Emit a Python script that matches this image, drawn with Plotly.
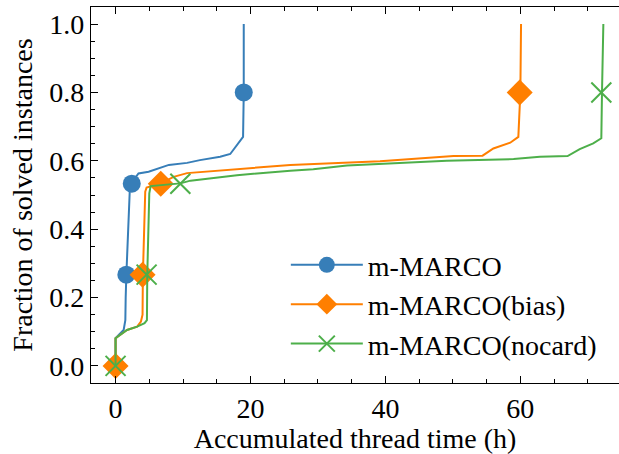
import plotly.graph_objects as go

# ---- data ----
series_names = ["m-MARCO", "m-MARCO(bias)", "m-MARCO(nocard)"]

marco_t = [0, 0, 1.2, 1.45, 1.5, 1.6, 2.1, 2.3, 3.4, 4.9, 7.9, 10.6, 12.5, 15.5, 17.0, 18.9, 19.0, 19.0]
marco_f = [0, 0.081, 0.105, 0.134, 0.20, 0.266, 0.51, 0.534, 0.563, 0.568, 0.588, 0.594, 0.602, 0.612, 0.62, 0.67, 0.8, 1.0]
marco_mark_t = [0, 1.6, 2.4, 19.0]
marco_mark_f = [0, 0.267, 0.533, 0.8]

bias_t = [0, 0, 1.7, 3.2, 3.76, 4.0, 4.05, 4.4, 4.6, 6.7, 8.6, 10.6, 25.9, 39.2, 50.1, 54.4, 56.0, 58.5, 59.7, 60.0, 60.1]
bias_f = [0, 0.081, 0.105, 0.115, 0.13, 0.15, 0.266, 0.51, 0.522, 0.534, 0.553, 0.564, 0.588, 0.599, 0.614, 0.615, 0.636, 0.653, 0.67, 0.8, 1.0]
bias_mark_t = [0, 4.0, 6.7, 59.9]
bias_mark_f = [0, 0.267, 0.533, 0.8]

nocard_t = [0, 0, 1.7, 3.2, 4.3, 4.65, 4.7, 5.0, 5.2, 6.6, 9.6, 11.1, 18.0, 25.9, 29.3, 34.3, 49.1, 59.0, 62.9, 67.0, 68.8, 70.8, 72.0, 72.1, 72.3]
nocard_f = [0, 0.081, 0.105, 0.115, 0.125, 0.134, 0.266, 0.505, 0.526, 0.529, 0.534, 0.542, 0.558, 0.571, 0.575, 0.586, 0.6, 0.605, 0.612, 0.614, 0.634, 0.651, 0.666, 0.8, 1.0]
nocard_mark_t = [0, 4.6, 9.6, 72.0]
nocard_mark_f = [0, 0.267, 0.533, 0.8]

x_tick_vals = [0, 20, 40, 60]
y_tick_vals = [0.0, 0.2, 0.4, 0.6, 0.8, 1.0]
y_tick_text = ["0.0", "0.2", "0.4", "0.6", "0.8", "1.0"]

colors = ["#377eb8", "#ff7f00", "#4daf4a"]
FONT = "Liberation Serif, DejaVu Serif, serif"
FS = 28

fig = go.Figure()

specs = [
    (marco_t, marco_f, marco_mark_t, marco_mark_f, dict(symbol="circle", size=18, color=colors[0])),
    (bias_t, bias_f, bias_mark_t, bias_mark_f, dict(symbol="diamond", size=20, color=colors[1])),
    (nocard_t, nocard_f, nocard_mark_t, nocard_mark_f,
     dict(symbol="x-thin", size=20, color=colors[2], line=dict(width=2, color=colors[2]))),
]

for i, (t, f, mt, mf, mk) in enumerate(specs):
    fig.add_trace(go.Scatter(x=t, y=f, mode="lines", line=dict(color=colors[i], width=2),
                             showlegend=False, hoverinfo="skip", cliponaxis=False))
    fig.add_trace(go.Scatter(x=mt, y=mf, mode="markers", marker=mk, showlegend=False,
                             cliponaxis=False))
    # legend entry (line + marker)
    lk = dict(mk)
    lk["size"] = min(mk["size"], 16)
    fig.add_trace(go.Scatter(x=[None], y=[None], mode="lines+markers", name=series_names[i],
                             line=dict(color=colors[i], width=2), marker=lk))

axis_common = dict(
    showgrid=False, zeroline=False, showline=True, linecolor="black", linewidth=1.2,
    ticks="inside", ticklen=7, tickwidth=1, tickcolor="black", automargin=False,
    tickfont=dict(family=FONT, size=FS, color="black"),
)

fig.update_xaxes(
    **axis_common, range=[-3.64, 74.62], tickvals=x_tick_vals, mirror="allticks",
    minor=dict(ticks="inside", dtick=5, tick0=0, ticklen=4, tickwidth=1, tickcolor="black"),
    title=dict(text="Accumulated thread time (h)", font=dict(family=FONT, size=FS, color="black"), standoff=3),
)
fig.update_yaxes(
    **axis_common, range=[-0.05, 1.05], tickvals=y_tick_vals, ticktext=y_tick_text,
    minor=dict(ticks="inside", dtick=0.05, tick0=0, ticklen=4, tickwidth=1, tickcolor="black"),
    title=dict(text="Fraction of solved instances", font=dict(family=FONT, size=FS, color="black"), standoff=8),
)

fig.update_layout(
    width=619, height=454,
    margin=dict(l=91, r=0, t=7, b=71),
    plot_bgcolor="white", paper_bgcolor="white",
    font=dict(family=FONT, size=FS, color="black"),
    legend=dict(x=0.369, y=0.38, xanchor="left", yanchor="top", bgcolor="rgba(0,0,0,0)",
                font=dict(family=FONT, size=FS, color="black"), tracegroupgap=0,
                itemwidth=72),
)

fig.write_html("out.html", config={"displayModeBar": False},
               post_script="document.body.style.margin='0';document.body.style.overflow='hidden';")
